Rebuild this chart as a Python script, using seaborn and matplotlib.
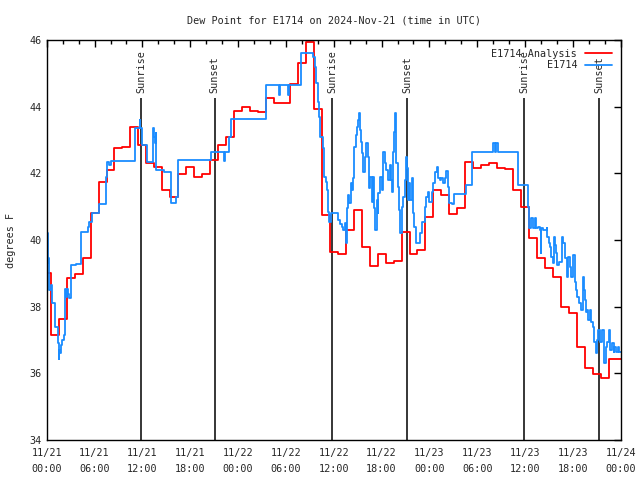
import matplotlib
matplotlib.use("Agg")
import matplotlib.pyplot as plt
import matplotlib.dates as mdates
import seaborn as sns
import pandas as pd

sns.set_style("white")
plt.rcParams['font.family'] = ['DejaVu Sans Mono']

START = pd.Timestamp('2024-11-21 00:00')

# hourly analysis values (hours since start)
analysis_hours = list(range(73))
analysis_vals = [
    39.0, 37.14, 37.62, 38.85, 38.97, 39.45, 40.8, 41.74, 42.1, 42.75,
    42.78, 43.38, 42.85, 42.32, 42.2, 41.5, 41.3, 41.97, 42.2, 41.9,
    41.97, 42.4, 42.85, 43.1, 43.87, 43.98, 43.87, 43.85, 44.25, 44.12,
    44.12, 44.68, 45.32, 45.95, 43.92, 40.75, 39.65, 39.58, 40.3, 40.89,
    39.78, 39.22, 39.57, 39.31, 39.37, 40.25, 39.58, 39.7, 40.7, 41.5,
    41.35, 40.77, 40.97, 42.33, 42.15, 42.25, 42.3, 42.15, 42.12, 41.5,
    41.0, 40.05, 39.45, 39.17, 38.9, 38.0, 37.8, 36.8, 36.15, 35.97,
    35.85, 36.42, 36.42,
]

# station observations (hours since start)
obs_hours = [
    0.0, 0.1, 0.2, 0.29, 0.5, 0.63, 1.05, 1.42, 1.5, 1.55, 1.63, 1.8, 1.97,
    2.13, 2.26, 2.3, 2.4, 2.55, 2.65, 2.8, 3.05, 3.7, 4.3, 5.2, 5.35, 5.73,
    6.57, 7.48, 7.6, 7.75, 8.0, 11.1, 11.7, 11.75, 12.0, 12.6, 13.3, 13.4,
    13.55, 13.65, 13.75, 14.7, 15.6, 16.2, 16.5, 20.66, 22.2, 22.35, 22.9,
    23.05, 27.48, 29.1, 29.25, 30.2, 30.35, 31.9, 33.4, 33.6, 33.8, 34.0,
    34.2, 34.3, 34.6, 34.8, 35.05, 35.15, 35.3, 35.45, 35.7, 36.55, 36.8,
    37.0, 37.2, 37.35, 37.5, 37.6, 37.8, 37.95, 38.1, 38.25, 38.4, 38.6,
    38.85, 38.95, 39.05, 39.2, 39.3, 39.45, 39.6, 39.7, 39.9, 40.1, 40.25,
    40.4, 40.6, 40.8, 40.95, 41.1, 41.2, 41.4, 41.5, 41.6, 41.8, 42.0, 42.2,
    42.4, 42.6, 42.8, 43.0, 43.15, 43.3, 43.4, 43.55, 43.66, 43.8, 44.0,
    44.15, 44.3, 44.5, 44.7, 44.9, 45.0, 45.15, 45.3, 45.45, 45.6, 45.8,
    46.0, 46.1, 46.3, 46.8, 47.1, 47.4, 47.6, 47.8, 48.0, 48.3, 48.5, 48.7,
    48.9, 49.1, 49.3, 49.5, 49.7, 49.9, 50.1, 50.3, 50.5, 50.8, 51.1, 52.6,
    53.3, 56.0, 56.2, 56.35, 56.6, 59.05, 60.3, 60.4, 60.5, 60.8, 60.95,
    61.2, 61.4, 61.6, 61.85, 61.95, 62.05, 62.2, 62.7, 62.8, 63.0, 63.15,
    63.3, 63.5, 63.6, 63.75, 63.9, 64.0, 64.2, 64.6, 64.8, 65.0, 65.2, 65.4,
    65.6, 65.8, 66.0, 66.2, 66.4, 66.5, 66.8, 67.0, 67.2, 67.4, 67.5, 67.6,
    67.75, 67.9, 68.1, 68.3, 68.5, 68.7, 68.9, 69.0, 69.1, 69.4, 69.6, 69.9,
    70.1, 70.3, 70.5, 70.7, 70.9, 71.1, 71.2, 71.35, 71.6, 71.8,
]
obs_vals = [
    40.2, 39.3, 39.45, 38.5, 38.65, 38.1, 37.4, 36.92, 36.42, 36.7, 36.6, 36.85, 37.0,
    37.15, 37.25, 38.52, 38.3, 38.52, 38.37, 38.25, 39.25, 39.28, 40.23, 40.4, 40.53, 40.8,
    41.08, 41.9, 42.35, 42.25, 42.38, 43.35, 43.6, 43.35, 42.85, 42.35, 43.35, 43.1,
    42.9, 43.2, 42.1, 42.05, 41.1, 41.3, 42.4, 42.64, 42.37, 42.64, 43.1,
    43.63, 44.65, 44.35, 44.65, 44.35, 44.65, 45.62, 45.5, 45.2, 44.7, 44.15,
    43.7, 43.1, 42.75, 41.9, 41.75, 41.5, 40.85, 40.55, 40.8, 40.6, 40.48,
    40.4, 40.3, 40.5, 39.9, 40.95, 41.35, 41.1, 41.7, 41.5, 41.85, 42.8,
    43.15, 43.4, 43.6, 43.8, 43.3, 42.95, 42.6, 42.05, 42.5, 42.9, 42.5,
    41.55, 41.9, 41.15, 41.9, 40.95, 40.3, 41.2, 40.8, 41.4, 41.9, 41.5, 42.65,
    42.3, 42.1, 41.8, 42.25, 41.8, 41.45, 42.65, 43.25, 43.8, 42.3, 41.6,
    40.9, 40.2, 41.0, 41.3, 41.8, 42.5, 42.15, 41.2, 41.7, 41.2, 41.85,
    40.8, 40.4, 39.9, 40.2, 40.55, 41.0, 41.3, 41.45, 41.15, 41.45, 41.7, 42.05,
    42.2, 41.85, 41.8, 41.85, 41.7, 41.85, 42.07, 41.6, 41.1, 41.07, 41.38, 41.65,
    42.63, 42.9, 42.63, 42.9, 42.63, 41.65, 41.5, 41.0, 40.35, 40.65, 40.35,
    40.65, 40.35, 40.4, 40.3, 39.6, 40.35, 40.3, 40.35, 40.1, 39.9, 39.8,
    39.5, 39.3, 40.1, 39.85, 39.6, 39.25, 39.35, 40.1, 39.9, 39.45, 38.9, 39.5,
    39.2, 38.9, 39.55, 38.75, 38.5, 38.3, 38.1, 37.9, 38.9, 38.5, 38.2, 37.85,
    37.9, 37.6, 37.9, 37.55, 37.4, 36.95, 36.6, 37.0, 37.3, 36.95, 37.3, 36.3,
    36.8, 36.95, 37.3, 36.7, 36.9, 36.65, 36.8, 36.65, 36.8, 36.65,
]

sun_labels = ['Sunrise', 'Sunset', 'Sunrise', 'Sunset', 'Sunrise', 'Sunset']
sun_hours = [11.83, 21.08, 35.8, 45.2, 59.9, 69.3]

FS = 7.3

analysis = pd.DataFrame({
    'time': START + pd.to_timedelta(analysis_hours, unit='h'),
    'dewpoint': analysis_vals,
})
obs = pd.DataFrame({
    'time': START + pd.to_timedelta(obs_hours, unit='h'),
    'dewpoint': obs_vals,
})
obs = pd.concat([obs, pd.DataFrame({'time': [START + pd.Timedelta(hours=72)],
                                    'dewpoint': [obs_vals[-1]]})])

fig, ax = plt.subplots(figsize=(6.4, 4.8), dpi=100)
fig.subplots_adjust(left=0.073, right=0.970, top=0.917, bottom=0.083)

sns.lineplot(data=analysis, x='time', y='dewpoint', ax=ax, color='#ff0000',
             linewidth=1.3, drawstyle='steps-mid', estimator=None,
             label='E1714 Analysis')
sns.lineplot(data=obs, x='time', y='dewpoint', ax=ax, color='#1a8cff',
             linewidth=1.3, drawstyle='steps-post', estimator=None,
             label='E1714')

# sunrise / sunset markers
for name, h in zip(sun_labels, sun_hours):
    t = START + pd.Timedelta(hours=h)
    ax.vlines(t, 34, 44.27, color='black', linewidth=1.1, zorder=1)
    ax.text(t, 44.4, name, rotation=90, ha='center', va='bottom', fontsize=FS)

ax.set_xlim(START, START + pd.Timedelta(hours=72))
ax.set_ylim(34, 46)
ax.set_yticks(range(34, 47, 2))
ax.xaxis.set_major_locator(mdates.HourLocator(byhour=[0, 6, 12, 18]))
ax.xaxis.set_minor_locator(mdates.HourLocator(byhour=range(0, 24, 2)))
ax.xaxis.set_major_formatter(mdates.DateFormatter('%m/%d\n%H:%M'))
ax.tick_params(which='both', direction='in', top=True, right=True,
               labelsize=FS, color='black', width=1)
ax.tick_params(which='major', length=5)
ax.tick_params(axis='x', which='major', pad=6)
ax.tick_params(which='minor', length=3)
for lab in ax.get_xticklabels():
    lab.set_ha('center')
    lab.set_linespacing(1.7)

for s in ax.spines.values():
    s.set_color('black')
    s.set_linewidth(1)

ax.set_xlabel('')
ax.set_ylabel('degrees F', fontsize=FS, labelpad=10)
ax.set_title('Dew Point for E1714 on 2024-Nov-21 (time in UTC)', fontsize=FS, pad=12)

ax.legend(loc='upper right', frameon=False, markerfirst=False, fontsize=FS,
          handlelength=2.6, borderaxespad=0.5, labelspacing=0.15)

plt.savefig('out.png', dpi=100)
plt.close()
